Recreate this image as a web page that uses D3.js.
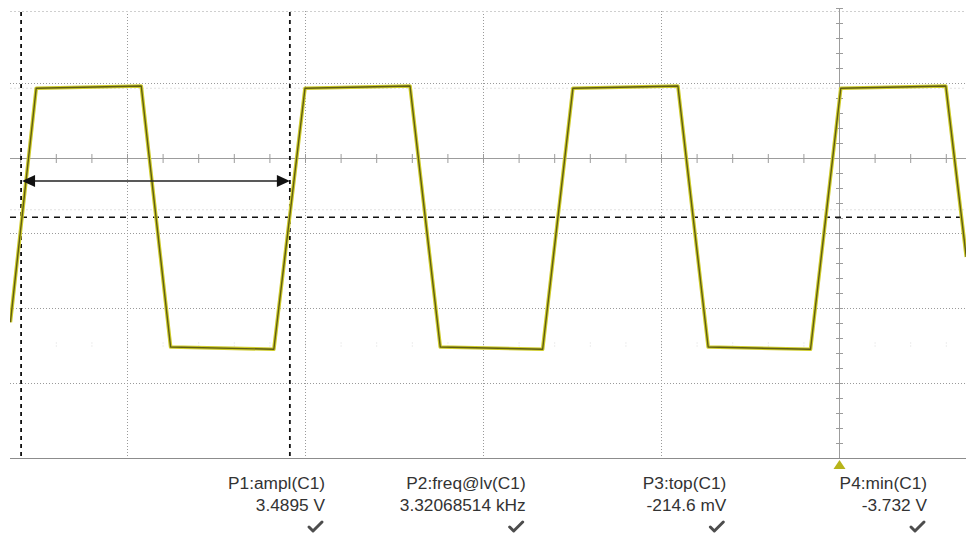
<!DOCTYPE html>
<html>
<head>
<meta charset="utf-8">
<script src="https://cdn.jsdelivr.net/npm/d3@7"></script>
<style>
  body { margin: 0; background: #fff; }
  svg { display: block; }
</style>
</head>
<body>
<script>
// trace vertices: time in microseconds, level in volts
var timeUs = [-931, -902, -784, -751, -635, -600, -482, -448, -333, -299, -181, -147, -32, 2, 120, 143];
var traceV = [-3.35, -0.23, -0.20, -3.68, -3.71, -0.23, -0.20, -3.68, -3.71, -0.23, -0.20, -3.68, -3.71, -0.23, -0.20, -2.48];

// cursors
var cursorT = [-919, -617];
var cursorV = -1.95;

// measurement readouts
var paramNames = ["P1:ampl(C1)", "P2:freq@lv(C1)", "P3:top(C1)", "P4:min(C1)"];
var paramValues = ["3.4895 V", "3.32068514 kHz", "-214.6 mV", "-3.732 V"];

var W = 966, H = 537;
var pLeft = 10, pRight = 966, pTop = 8, pBottom = 458;
var offsetDiv = 1.16;   // channel offset, 1 V/div

var x = d3.scaleLinear().domain([-1000, 200]).range([-51, 1017]);   // 200 us/div
var yDiv = d3.scaleLinear().domain([-4, 2]).range([pBottom, pTop]);
var yV = function(v) { return yDiv(v + offsetDiv); };

var svg = d3.select("body").append("svg").attr("width", W).attr("height", H);

svg.append("defs").append("clipPath").attr("id", "plot")
    .append("rect").attr("x", pLeft).attr("y", pTop).attr("width", pRight - pLeft).attr("height", pBottom - pTop + 1);

var g = svg.append("g").attr("clip-path", "url(#plot)");

// faint level markers
g.selectAll("line.faint")
    .data([yDiv(0.93), yDiv(-0.69)])
    .enter().append("line")
    .attr("x1", pLeft).attr("x2", pRight)
    .attr("y1", function(d) { return d; }).attr("y2", function(d) { return d; })
    .attr("stroke", "#e2e2e2").attr("stroke-dasharray", "2,2");

// faint minor marks low in the screen
g.selectAll("line.fmark")
    .data(d3.range(-1000, 201, 40))
    .enter().append("line")
    .attr("x1", function(d) { return x(d) + 0.5; }).attr("x2", function(d) { return x(d) + 0.5; })
    .attr("y1", yDiv(-2.5) - 3).attr("y2", yDiv(-2.5) + 3)
    .attr("stroke", "#dcdcdc").attr("stroke-dasharray", "1,2");

// dotted grid
var vGrid = d3.range(-1000, 201, 200).filter(function(d) { return d !== 0; });
g.selectAll("line.vg")
    .data(vGrid)
    .enter().append("line")
    .attr("x1", function(d) { return x(d) + 0.5; }).attr("x2", function(d) { return x(d) + 0.5; })
    .attr("y1", pTop + 3).attr("y2", pBottom)
    .attr("stroke", "#9a9a9a").attr("stroke-dasharray", "1,2");

var hGrid = [-3, -2, -1, 1];
g.selectAll("line.hg")
    .data(hGrid)
    .enter().append("line")
    .attr("x1", pLeft).attr("x2", pRight)
    .attr("y1", function(d) { return yDiv(d) + 0.5; }).attr("y2", function(d) { return yDiv(d) + 0.5; })
    .attr("stroke", "#9a9a9a").attr("stroke-dasharray", "1,2");

// top frame line
g.append("line")
    .attr("x1", pLeft).attr("x2", pRight).attr("y1", pTop + 3.5).attr("y2", pTop + 3.5)
    .attr("stroke", "#cfcfcf").attr("stroke-dasharray", "2,2");

// center axes with minor ticks
g.append("line")
    .attr("x1", pLeft).attr("x2", pRight).attr("y1", yDiv(0) + 0.5).attr("y2", yDiv(0) + 0.5)
    .attr("stroke", "#9c9c9c");
g.selectAll("line.xt")
    .data(d3.range(-1000, 201, 40))
    .enter().append("line")
    .attr("x1", function(d) { return x(d) + 0.5; }).attr("x2", function(d) { return x(d) + 0.5; })
    .attr("y1", yDiv(0) - 4).attr("y2", yDiv(0) + 5)
    .attr("stroke", "#9c9c9c");

g.append("line")
    .attr("x1", x(0) + 0.5).attr("x2", x(0) + 0.5).attr("y1", pTop).attr("y2", pBottom)
    .attr("stroke", "#9c9c9c");
g.selectAll("line.yt")
    .data(d3.range(-4, 2.01, 0.2))
    .enter().append("line")
    .attr("x1", x(0) - 3).attr("x2", x(0) + 4)
    .attr("y1", function(d) { return yDiv(d) + 0.5; }).attr("y2", function(d) { return yDiv(d) + 0.5; })
    .attr("stroke", "#9c9c9c");

// cursors
g.selectAll("line.cv")
    .data(cursorT)
    .enter().append("line")
    .attr("x1", function(d) { return x(d); }).attr("x2", function(d) { return x(d); })
    .attr("y1", pTop + 4).attr("y2", pBottom)
    .attr("stroke", "#111").attr("stroke-width", 1.8).attr("stroke-dasharray", "4,4");

g.append("line")
    .attr("x1", pLeft).attr("x2", pRight).attr("y1", yV(cursorV)).attr("y2", yV(cursorV))
    .attr("stroke", "#111").attr("stroke-width", 1.6).attr("stroke-dasharray", "6,5");

// trace
var pts = timeUs.map(function(t, i) { return [t, traceV[i]]; });
var line = d3.line()
    .x(function(d) { return x(d[0]); })
    .y(function(d) { return yV(d[1]); });

g.append("path")
    .attr("d", line(pts))
    .attr("fill", "none").attr("stroke", "#cfcc2c").attr("stroke-width", 3.6)
    .attr("stroke-linejoin", "round");
g.append("path")
    .attr("d", line(pts))
    .attr("fill", "none").attr("stroke", "#5f5d12").attr("stroke-width", 1.4)
    .attr("stroke-linejoin", "round");

// period arrow between the cursors
var ay = 181;
var x0 = x(cursorT[0]) + 1, x1 = x(cursorT[1]);
svg.append("line")
    .attr("x1", x0 + 10).attr("x2", x1 - 10).attr("y1", ay).attr("y2", ay)
    .attr("stroke", "#222").attr("stroke-width", 1.6);
svg.append("path")
    .attr("d", "M" + x0 + "," + ay + "L" + (x0 + 13) + "," + (ay - 6) + "L" + (x0 + 13) + "," + (ay + 6) + "Z")
    .attr("fill", "#111");
svg.append("path")
    .attr("d", "M" + x1 + "," + ay + "L" + (x1 - 13) + "," + (ay - 6) + "L" + (x1 - 13) + "," + (ay + 6) + "Z")
    .attr("fill", "#111");

// bottom edge of the screen
svg.append("line")
    .attr("x1", pLeft).attr("x2", pRight).attr("y1", pBottom + 0.5).attr("y2", pBottom + 0.5)
    .attr("stroke", "#8c8c8c").attr("stroke-width", 1.2);

// trigger marker
svg.append("path")
    .attr("d", "M" + (x(0) + 0.5) + "," + (pBottom + 2) + "l6,9l-12,0Z")
    .attr("fill", "#b7b41a");

// readouts
var px = d3.scaleLinear().domain([0, 3]).range([325, 927]);
var readout = svg.selectAll("g.param")
    .data(paramNames)
    .enter().append("g")
    .attr("transform", function(d, i) { return "translate(" + px(i) + ",0)"; });

readout.append("text")
    .attr("y", 489)
    .attr("text-anchor", "end")
    .attr("font-family", "Liberation Sans, Arial, sans-serif")
    .attr("font-size", 17.3)
    .attr("fill", "#333")
    .text(function(d) { return d; });

readout.append("text")
    .attr("y", 511)
    .attr("text-anchor", "end")
    .attr("font-family", "Liberation Sans, Arial, sans-serif")
    .attr("font-size", 17.3)
    .attr("fill", "#333")
    .text(function(d, i) { return paramValues[i]; });

readout.append("path")
    .attr("d", "M-16,527L-12,531L-3,522")
    .attr("fill", "none").attr("stroke", "#4d4d4d").attr("stroke-width", 3)
    .attr("stroke-linecap", "round").attr("stroke-linejoin", "round");
</script>
</body>
</html>
